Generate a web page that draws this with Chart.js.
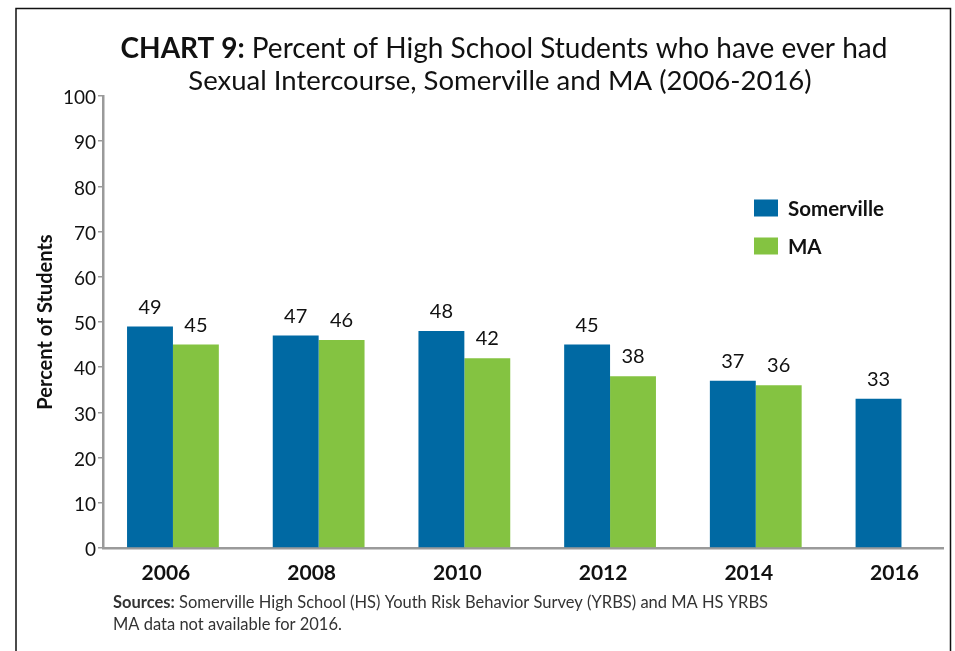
<!DOCTYPE html>
<html>
<head>
<meta charset="utf-8">
<script src="https://cdn.jsdelivr.net/npm/chart.js@4/dist/chart.umd.min.js"></script>
<style>
  html, body { margin: 0; padding: 0; background: #fff; }
  #wrap { position: relative; width: 955px; height: 651px; }
</style>
</head>
<body>
<div id="wrap"><canvas id="c" width="955" height="651"></canvas></div>
<script>
// ---- data ----
const categories = [2006, 2008, 2010, 2012, 2014, 2016];
const somervilleValues = [49, 47, 48, 45, 37, 33];
const maValues = [45, 46, 42, 38, 36, null];
const seriesNames = ['Somerville', 'MA'];
const yTickValues = [0, 10, 20, 30, 40, 50, 60, 70, 80, 90, 100];
const titleLine1Bold = 'CHART 9:';
const titleLine1Rest = ' Percent of High School Students who have ever had';
const titleLine2 = 'Sexual Intercourse, Somerville and MA (2006-2016)';
const yAxisTitle = 'Percent of Students';
const sourceBold = 'Sources:';
const sourceRest = ' Somerville High School (HS) Youth Risk Behavior Survey (YRBS) and MA HS YRBS';
const sourceLine2 = 'MA data not available for 2016.';

const FONT = 'Lato, "Open Sans", sans-serif';
const BLUE = '#0069a3';
const GREEN = '#84c341';

function toPoints(vals) {
  return categories.map((c, i) => ({ x: c, y: vals[i] }));
}

const decorPlugin = {
  id: 'decor',
  afterDraw(chart) {
    const ctx = chart.ctx;
    ctx.save();
    // frame
    ctx.strokeStyle = '#111';
    ctx.lineWidth = 1.5;
    ctx.beginPath();
    ctx.moveTo(16, 651);
    ctx.lineTo(16, 8.5);
    ctx.lineTo(950.5, 8.5);
    ctx.lineTo(950.5, 651);
    ctx.stroke();

    // title
    ctx.fillStyle = '#111';
    ctx.textBaseline = 'middle';
    ctx.textAlign = 'left';
    const tBold = 'bold 28px ' + FONT;
    const tNorm = '28px ' + FONT;
    ctx.font = tBold;
    const w1 = ctx.measureText(titleLine1Bold).width;
    ctx.font = tNorm;
    const w2 = ctx.measureText(titleLine1Rest).width;
    let x = 504 - (w1 + w2) / 2;
    ctx.font = tBold;
    ctx.fillText(titleLine1Bold, x, 49);
    ctx.font = tNorm;
    ctx.fillText(titleLine1Rest, x + w1, 49);
    ctx.textAlign = 'center';
    ctx.font = '27.5px ' + FONT;
    ctx.fillText(titleLine2, 500, 81);

    // legend
    const legendItems = chart.data.datasets.map(d => ({ label: d.label, color: d.backgroundColor }));
    ctx.textAlign = 'left';
    ctx.font = 'bold 20.5px ' + FONT;
    legendItems.forEach((it, i) => {
      const cy = 208 + i * 38;
      ctx.fillStyle = it.color;
      ctx.fillRect(754, cy - 8.5, 24, 17);
      ctx.fillStyle = '#111';
      ctx.fillText(it.label, 788, cy + 1);
    });

    // value labels
    ctx.font = '20px ' + FONT;
    ctx.textAlign = 'center';
    ctx.textBaseline = 'alphabetic';
    ctx.fillStyle = '#111';
    chart.data.datasets.forEach((ds, di) => {
      const meta = chart.getDatasetMeta(di);
      meta.data.forEach((el, i) => {
        const v = ds.data[i].y;
        if (v === null || v === undefined) return;
        ctx.fillText(String(v), el.x, el.y - 13);
      });
    });

    // sources
    ctx.textAlign = 'left';
    ctx.textBaseline = 'middle';
    ctx.fillStyle = '#333';
    ctx.font = 'bold 16.5px ' + FONT;
    const sw = ctx.measureText(sourceBold).width;
    ctx.fillText(sourceBold, 113, 603);
    ctx.font = '16.5px ' + FONT;
    ctx.fillText(sourceRest, 113 + sw, 603);
    ctx.fillText(sourceLine2, 113, 625);
    ctx.restore();
  }
};

new Chart(document.getElementById('c'), {
  type: 'bar',
  data: {
    datasets: [
      { label: seriesNames[0], data: toPoints(somervilleValues), backgroundColor: BLUE },
      { label: seriesNames[1], data: toPoints(maValues), backgroundColor: GREEN }
    ]
  },
  options: {
    responsive: false,
    animation: false,
    layout: { padding: { top: 96, left: 20, right: 12, bottom: 63 } },
    categoryPercentage: 0.63,
    barPercentage: 1.0,
    plugins: {
      legend: { display: false },
      title: { display: false },
      tooltip: { enabled: false }
    },
    scales: {
      x: {
        type: 'linear',
        offset: false,
        min: 2005.04,
        max: 2016.57,
        afterBuildTicks: (s) => { s.ticks = categories.map(v => ({ value: v })); },
        afterFit: (s) => { s.height = 40; },
        grid: { display: false, drawTicks: false, offset: false },
        border: { display: true, color: '#9a9a9a', width: 2.5 },
        ticks: {
          callback: (v) => String(v),
          font: { family: FONT, size: 21, weight: 'bold' },
          color: '#111',
          padding: 13,
          labelOffset: -7,
          maxRotation: 0,
          autoSkip: false
        }
      },
      y: {
        min: 0,
        max: 100,
        afterBuildTicks: (s) => { s.ticks = yTickValues.map(v => ({ value: v })); },
        afterFit: (s) => { s.width = 83; },
        grid: { drawOnChartArea: false, drawTicks: true, tickLength: 5, color: '#9a9a9a', lineWidth: 1.5 },
        border: { display: true, color: '#9a9a9a', width: 2.5 },
        ticks: {
          font: { family: FONT, size: 19 },
          color: '#111',
          padding: 2,
          labelOffset: 2
        },
        title: {
          display: true,
          text: yAxisTitle,
          font: { family: FONT, size: 20, weight: 'bold' },
          color: '#111',
          padding: { top: 14, bottom: 0 }
        }
      }
    }
  },
  plugins: [decorPlugin]
});
</script>
</body>
</html>
